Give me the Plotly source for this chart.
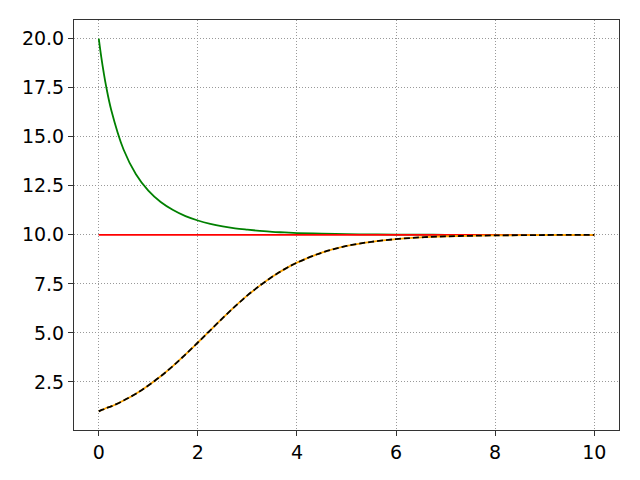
import plotly.graph_objects as go

# values
t = [0, 0.05, 0.1, 0.15, 0.25, 0.5, 0.75, 1, 1.25, 1.5, 1.75, 2, 2.25, 2.5,
     2.75, 3, 3.25, 3.5, 3.75, 4, 4.5, 5, 5.5, 6, 6.5, 7, 7.5, 8, 9, 10]
green = [20.0, 19.07, 18.26, 17.55, 16.38, 14.35, 13.09, 12.25, 11.67, 11.26,
         10.95, 10.73, 10.56, 10.43, 10.33, 10.26, 10.20, 10.15, 10.12, 10.09,
         10.06, 10.03, 10.02, 10.01, 10.01, 10.0, 10.0, 10.0, 10.0, 10.0]
orange = [1.0, 1.06, 1.11, 1.17, 1.25, 1.55, 1.90, 2.32, 2.79, 3.32, 3.90,
          4.51, 5.13, 5.75, 6.35, 6.91, 7.41, 7.86, 8.25, 8.58, 9.09, 9.43,
          9.64, 9.78, 9.87, 9.92, 9.95, 9.97, 9.99, 10.0]
red = [10.0] * len(t)

x_ticks = [0, 2, 4, 6, 8, 10]
y_ticks = [2.5, 5.0, 7.5, 10.0, 12.5, 15.0, 17.5, 20.0]

fig = go.Figure()
fig.add_trace(go.Scatter(x=t, y=green, mode="lines", line={"color": "#008000", "width": 1.8, "shape": "spline"}))
fig.add_trace(go.Scatter(x=t, y=red, mode="lines", line={"color": "#ff0000", "width": 1.8}))
fig.add_trace(go.Scatter(x=t, y=orange, mode="lines", line={"color": "#ffa500", "width": 1.8, "shape": "spline"}))
fig.add_trace(go.Scatter(x=t, y=orange, mode="lines",
                         line={"color": "#000000", "width": 1.8, "dash": "6px,3px", "shape": "spline"}))

axis_style = {
    "showline": True,
    "mirror": True,
    "linecolor": "#333333",
    "linewidth": 1,
    "ticks": "outside",
    "ticklen": 5,
    "tickcolor": "#333333",
    "showgrid": True,
    "gridcolor": "#999999",
    "griddash": "1px,2px",
    "gridwidth": 1,
    "zeroline": False,
    "tickfont": {"family": "DejaVu Sans", "size": 19, "color": "#000000"},
}

# page body has an 8px margin, so the margins are shifted to compensate
fig.update_layout(
    width=640,
    height=480,
    margin={"l": 66, "r": 29, "t": 12, "b": 58},
    plot_bgcolor="white",
    paper_bgcolor="white",
    showlegend=False,
    xaxis={**axis_style, "range": [-0.5, 10.5], "tickvals": x_ticks},
    yaxis={**axis_style, "range": [0.05, 20.95], "tickvals": y_ticks, "tickformat": ".1f"},
)

fig.write_html("out.html")
